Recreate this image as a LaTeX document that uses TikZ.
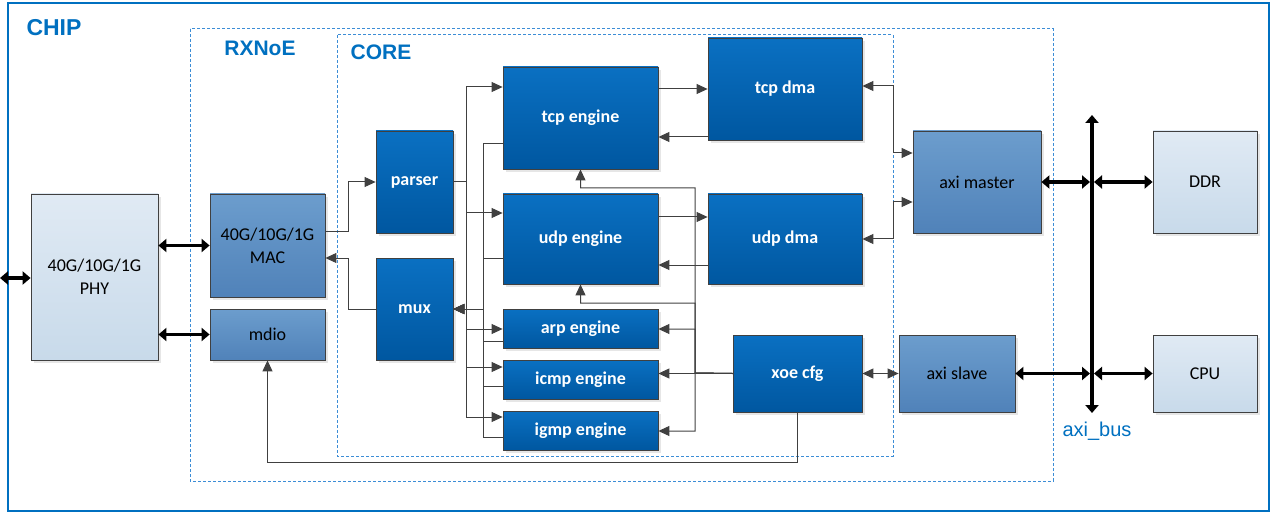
\documentclass[tikz,border=0pt]{standalone}
\usepackage{fontspec}
\setmainfont{Carlito}
\newfontfamily\titlefont{Liberation Sans}
\usetikzlibrary{arrows.meta, shadows}

\definecolor{chipblue}{HTML}{0070C0}
\definecolor{frameblue}{HTML}{3C8DD6}
\definecolor{linegray}{HTML}{404040}
\definecolor{engtop}{HTML}{0A70C2}
\definecolor{engbot}{HTML}{0057A0}
\definecolor{midtop}{HTML}{6C9DCD}
\definecolor{midbot}{HTML}{5082B9}
\definecolor{lighttop}{HTML}{E0EAF4}
\definecolor{lightbot}{HTML}{C8DAEA}

\begin{document}
\begin{tikzpicture}[x=1pt, y=-1pt,
  box/.style={draw=linegray, line width=.8pt, inner sep=0pt, align=center,
    font=\fontsize{18}{23}\selectfont,
    drop shadow={opacity=.2, shadow xshift=3pt, shadow yshift=-3pt}},
  engine/.style={box, top color=engtop, bottom color=engbot, text=white,
    font=\fontsize{18}{23}\selectfont\bfseries},
  ctrl/.style={box, top color=midtop, bottom color=midbot},
  outside/.style={box, top color=lighttop, bottom color=lightbot},
  link/.style={draw=linegray, line width=1pt, -{Triangle[length=11pt,width=10pt]}},
  dlink/.style={link, {Triangle[length=11pt,width=10pt]}-{Triangle[length=11pt,width=10pt]}},
  wide/.style={line width=3.5pt, {Triangle[length=8pt,width=13pt]}-{Triangle[length=8pt,width=13pt]}},
  frame/.style={draw=frameblue, dash pattern=on 3pt off 2pt, line width=1pt},
  title/.style={text=chipblue, inner sep=0pt, font=\titlefont\bfseries\fontsize{21}{21}\selectfont}
]
\useasboundingbox (0,0) rectangle (1277,513);

% frames
\draw[chipblue, line width=2pt] (8,3) rectangle (1269,511);
\draw[frame] (190,29) rectangle (1053,481);
\draw[frame] (337,35) rectangle (893,456);
\node[title, font=\titlefont\bfseries\fontsize{23}{23}\selectfont] (chip) at (54,28) {CHIP};
\node[title] (rxnoe) at (260,48) {RXNoE};
\node[title] (core) at (381,52) {CORE};
\node[title, font=\titlefont\fontsize{20}{20}\selectfont] (busname) at (1097,431) {axi\_bus};

% left side
\node[outside, minimum width=127pt, minimum height=166pt] (PHY) at (94.5,277) {40G/10G/1G\\PHY};
\node[ctrl, minimum width=115pt, minimum height=103pt] (MAC) at (267.5,245.5) {40G/10G/1G\\MAC};
\node[ctrl, minimum width=115pt, minimum height=51pt] (mdio) at (267.5,334.5) {mdio};

% core blocks
\node[engine, minimum width=77pt, minimum height=102pt] (parser) at (414.5,182) {parser};
\node[engine, minimum width=77pt, minimum height=102pt] (mux) at (414.5,309) {mux};
\node[engine, minimum width=155pt, minimum height=102pt] (tcp) at (580.5,118) {tcp engine};
\node[engine, minimum width=155pt, minimum height=90pt] (udp) at (580.5,239) {udp engine};
\node[engine, minimum width=155pt, minimum height=39pt] (arp) at (580.5,328.5) {arp engine};
\node[engine, minimum width=155pt, minimum height=39pt] (icmp) at (580.5,379.5) {icmp engine};
\node[engine, minimum width=155pt, minimum height=39pt] (igmp) at (580.5,430.5) {igmp engine};
\node[engine, minimum width=154pt, minimum height=102pt] (tcpdma) at (785,89) {tcp dma};
\node[engine, minimum width=154pt, minimum height=90pt] (udpdma) at (785,239) {udp dma};
\node[engine, minimum width=129pt, minimum height=77pt] (xoecfg) at (797.5,373.5) {xoe cfg};

% axi side
\node[ctrl, minimum width=128pt, minimum height=102pt] (aximaster) at (977,182) {axi master};
\node[ctrl, minimum width=116pt, minimum height=77pt] (axislave) at (957,373.5) {axi slave};
\node[outside, minimum width=104pt, minimum height=102pt] (DDR) at (1205,182) {DDR};
\node[outside, minimum width=104pt, minimum height=77pt] (CPU) at (1205,373.5) {CPU};

\coordinate (pin) at (0,278);
\coordinate (bustop) at (1092,115);
\coordinate (busbot) at (1092,413);
\coordinate (xj) at (695,373);

% thick links
\draw[wide] (pin) -- (PHY.west |- pin);
\draw[wide] (PHY.east |- MAC.west) -- (MAC.west);
\draw[wide] (PHY.east |- mdio.west) -- (mdio.west);
\draw[wide] (bustop) -- (busbot);
\draw[wide] (aximaster.east) -- ([xshift=-2pt]bustop |- aximaster.east);
\draw[wide] ([xshift=2pt]bustop |- DDR.west) -- (DDR.west);
\draw[wide] (axislave.east) -- ([xshift=-2pt]bustop |- axislave.east);
\draw[wide] ([xshift=2pt]bustop |- CPU.west) -- (CPU.west);

% MAC <-> parser/mux
\draw[link] (MAC.east |- 0,232) -- (348,232) |- (parser.west);
\draw[link] (mux.west) -- (348,309) |- (MAC.east |- 0,258);

% parser fan-out
\foreach \n/\y in {tcp/87, udp/213, arp/329, icmp/367, igmp/417}
  \draw[link] (parser.east) -- ++(13,0) |- (\n.west |- 0,\y);
% engines to mux
\foreach \n/\y in {tcp/144, udp/258, arp/341, icmp/386, igmp/437}
  \draw[link] (\n.west |- 0,\y) -- ++(-19,0) |- (mux.east);

% engines <-> dma
\draw[link] (tcp.east |- 0,89) -- (tcpdma.west |- 0,89);
\draw[link] (tcpdma.west |- 0,137) -- (tcp.east |- 0,137);
\draw[link] (udp.east |- 0,217) -- (udpdma.west |- 0,217);
\draw[link] (udpdma.west |- 0,265) -- (udp.east |- 0,265);

% dma <-> axi master
\draw[dlink] (tcpdma.east |- 0,86) -- (893,86) |- (aximaster.west |- 0,153);
\draw[dlink] (udpdma.east |- 0,239) -- (893,239) |- (aximaster.west |- 0,202);

% xoe cfg fan-out
\draw[link] (xoecfg.west) -- (xj) -- (695,188) -| (tcp.south);
\draw[link] (xoecfg.west) -- (xj) -- (695,303) -| (udp.south);
\draw[link] (xoecfg.west) -- (xj) |- (arp.east |- 0,329);
\draw[link] (xoecfg.west) -- (icmp.east |- xoecfg.west);
\draw[link] (xoecfg.west) -- (xj) |- (igmp.east |- 0,431);
\draw[dlink] (xoecfg.east) -- (axislave.west);
\draw[link] (xoecfg.south) -- (xoecfg.south |- 0,462) -| (mdio.south);

\end{tikzpicture}
\end{document}
